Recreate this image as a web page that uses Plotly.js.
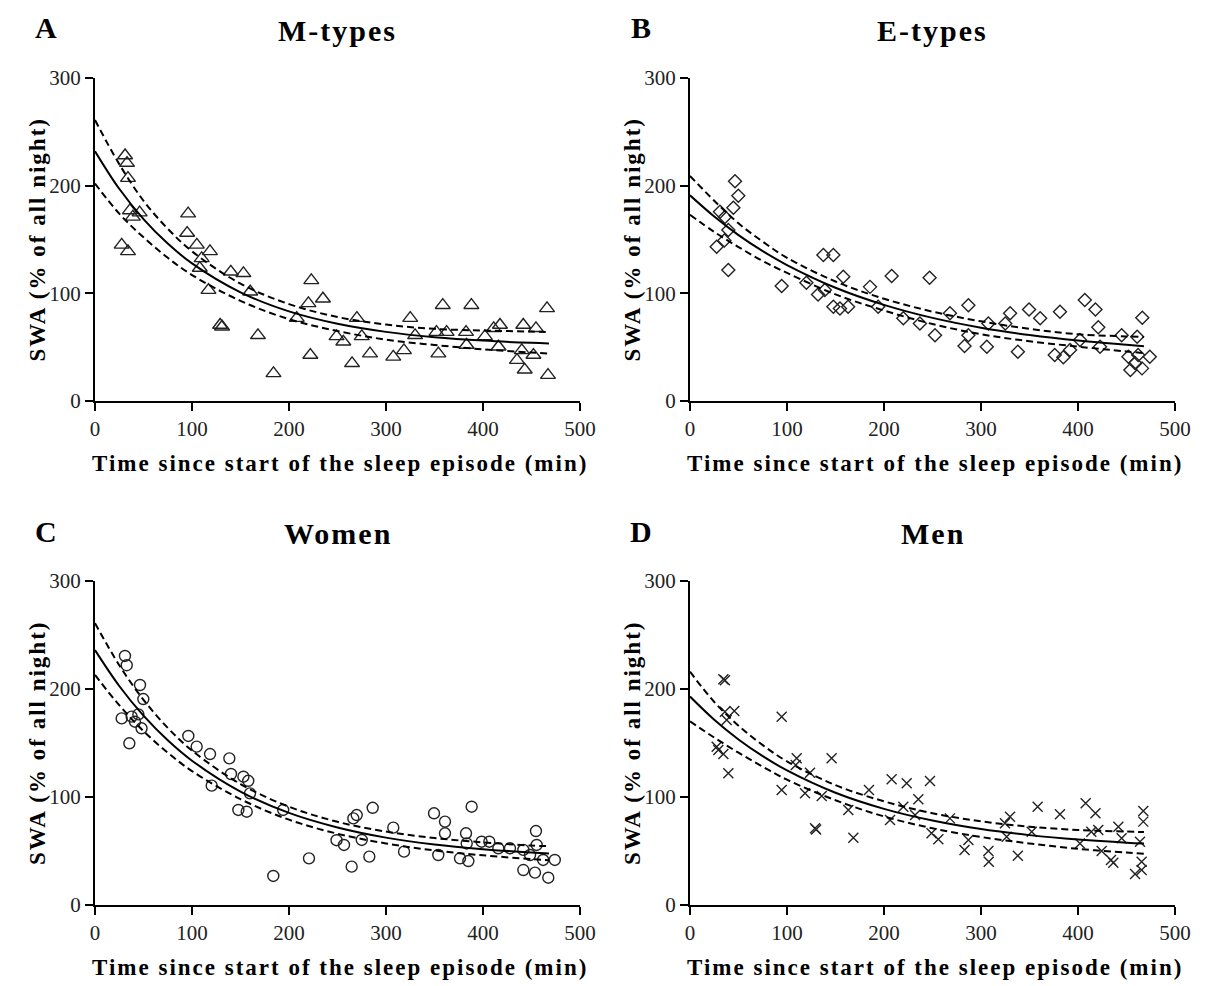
<!DOCTYPE html>
<html>
<head>
<meta charset="utf-8">
<script src="https://cdn.plot.ly/plotly-3.0.1.min.js"></script>
<style>
html,body{margin:0;padding:0;background:#fff;}
#chart{width:1208px;height:986px;}
.annotation-text{letter-spacing:2px;}
</style>
</head>
<body>
<div id="chart"></div>
<script>
// ---------- data ----------
const panelTitles = ["M-types", "E-types", "Women", "Men"];
const panelLetters = ["A", "B", "C", "D"];
const xTitle = "Time since start of the sleep episode (min)";
const yTitle = "SWA (% of all night)";
const xTicks = [0, 100, 200, 300, 400, 500];
const yTicks = [0, 100, 200, 300];

// Panel A: M-types (triangles)
const mX = [31,33,34,36,39,46,27.5,34,96,95,105,118.5,110,108,117,129,131,140,153,160,168,184,208,220,223,235,222,249,256,270,275,265,283.5,307.5,318.5,325,330,354,352,362.5,358.5,388,382.5,383,402,411,417.5,416,441.5,454.6,440,435,443,452,466,467];
const mY = [228,221,207,177,171,175,145,139,174,156,145,139,132.5,123.5,103,70.6,69,120,118.6,101.5,61,25.7,77,90.7,112,95,42.7,60,55,77,60,35,44,41,47,77,61,44,64,64,89,89,64,52,60,67.5,70.6,50.4,70.6,67.5,47,38,29,42.7,86,24];

// Panel B: E-types (diamonds)
const eX = [46.4,49.8,44.7,30.9,36,39.5,27.5,35.4,39.5,94.5,137.5,147.8,120,132,139,158,147.8,154.6,163,185.6,194,207.9,219.9,237,247,252.6,268,287,287,283,306,307.6,330,325,338,349.5,361,381.4,376,384.9,391.8,402,407,418,420.9,422.7,445,461,466.3,452,462,474,454,459,466];
const eY = [204,190.7,179.5,175.8,171,158.8,143.3,149,121.7,106.8,135.6,135.6,109.9,99,103,115.4,87.6,86,87.6,106,87.6,116,76.8,72,114.5,61,81.4,89,61,51,50.4,72,81.4,72,45.8,85,76.8,83,42.7,40.6,47.4,56.7,93.8,85,68.5,50.4,61,59.7,77.4,41,42.7,41,28.8,35,30.3];

// Panel C: Women (circles)
const wX = [30.9,32.7,46.4,49.8,27.5,37.8,41.2,48,35.4,44.7,96.2,104.8,118.6,120.3,138.5,140.2,153,158,147.8,156.4,159.8,194,183.8,220.6,249,256.7,264.6,266.3,269.8,275,282.8,286.3,307.5,318.6,349.5,360.8,360.8,353.9,382.5,388.3,383.2,376.3,384.9,398.6,406.5,415.8,427.8,441.6,454.6,455.3,448.5,441.6,453.6,467.3,474,462];
const wY = [230.6,222,203.7,190.7,172.8,174.4,169.7,163.6,149.7,176.5,156.5,146.6,139.8,110.5,135.8,121.3,118.8,115,88,86.4,103.4,88,26.9,43.2,60,55.6,35.5,80.2,83.3,60.2,44.8,90,71.6,49.4,84.9,77.2,66.4,46.3,66.4,91,57,43.2,40.7,58.6,58.6,52.5,52.5,51,68.5,55.6,46.3,32.4,30,25.3,41.7,41.7];

// Panel D: Men (crosses)
const nX = [34.4,36,36,45.7,37.8,27.5,29.2,34.4,39.5,94.5,94.5,110,109,123.7,118.6,128.9,130,135.8,146,163.2,168.4,184.5,207.9,223.4,219.9,206.2,235.4,232,247.4,249,256,268,283,287,307.6,308,329.9,324.7,326.5,338,352.3,358.4,381.4,402,407.9,418,413.7,420.9,424.4,436.4,434,441.6,445,467.3,467.3,463.9,465.6,465.6,458.8];
const nY = [209,208,179,179.6,171.3,146.6,143.5,139.8,122,174.4,106.5,135.8,129.6,122.5,103.4,71,70,100.9,135.8,88,62.3,106.5,116.4,112.7,91,78.7,98,83.3,114.8,66.4,60.8,80.2,51,60.2,50,40,81.8,75.6,63.2,45.6,67.9,91,84,57,94.2,84.9,67.9,69.4,50,39.2,41.7,72.5,61.7,87,77.2,58.6,40,32.4,28.7];

// fitted curves and confidence bands (read at these times)
const fitX = [0,25,50,75,100,150,200,250,300,350,400,450,468];
const mFit = [232,197.1,169,146.2,127.8,100.9,83.2,71.7,64.2,59.3,56.1,54,53.5];
const mUp  = [261,220,186,160,139,109,90,78,71,67,65.5,64.5,64];
const mLo  = [202,174,152,133,117,93,76,65,57,52,48,45,44];
const eFit = [191,171.3,154.1,139.2,126.3,105.2,89.3,77.2,68.1,61.3,56.1,52.2,50.9];
const eUp  = [209,186,165,148,133,111,95,83,74,67,62,60,59.5];
const eLo  = [173,157,143,130,119,99,84,71.5,62,55.5,50.5,46,44.5];
const wFit = [236,202.8,175.3,152.5,133.6,105,85.3,71.8,62.4,56,51.7,48.6,47.7];
const wUp  = [261,222,190,164,143,112,91,77,68,62,58,55,54.5];
const wLo  = [213,185,161,141,124,98,79,66,57,50.5,46,42.5,41.5];
const nFit = [193,171.5,153.3,137.8,124.6,103.9,89,78.2,70.3,64.7,60.6,57.7,57];
const nUp  = [216,188,166,148,133,111,96,85,77.5,72.5,69.5,68,67.5];
const nLo  = [170,155,141,128,116,97,82,71,63,57,52,48.5,47.5];

// ---------- build figure ----------
const W = 1208, H = 986;
const px = v => v / W;
const py = v => 1 - v / H;

const panels = [
  {xs: mX, ys: mY, fit: mFit, up: mUp, lo: mLo, sym: "triangle-up-open", size: 13},
  {xs: eX, ys: eY, fit: eFit, up: eUp, lo: eLo, sym: "diamond-open", size: 10},
  {xs: wX, ys: wY, fit: wFit, up: wUp, lo: wLo, sym: "circle-open", size: 11},
  {xs: nX, ys: nY, fit: nFit, up: nUp, lo: nLo, sym: "x-thin-open", size: 10}
];
// plot-area pixel boxes [left, right, top, bottom]
const boxes = [[95,580,78,401],[690,1175,78,401],[95,580,581,905],[690,1175,581,905]];

const serif = "Liberation Serif, Times New Roman, serif";
const data = [];
const layout = {
  width: W, height: H,
  margin: {l:0, r:0, t:0, b:0},
  paper_bgcolor: "#fff", plot_bgcolor: "#fff",
  showlegend: false,
  annotations: []
};

panels.forEach((p, i) => {
  const n = i === 0 ? "" : String(i + 1);
  const xa = "x" + n, ya = "y" + n;
  const b = boxes[i];
  const axCommon = {
    showgrid: false, zeroline: false, showline: true,
    linecolor: "#000", linewidth: 2,
    ticks: "outside", ticklen: 8, tickwidth: 2, tickcolor: "#000",
    tickfont: {family: serif, size: 21, color: "#222"},
    fixedrange: true
  };
  layout["xaxis" + n] = Object.assign({}, axCommon, {
    domain: [px(b[0]), px(b[1])], anchor: ya, range: [0, 500],
    tickvals: xTicks, ticktext: xTicks.map(String)
  });
  layout["yaxis" + n] = Object.assign({}, axCommon, {
    domain: [py(b[3]), py(b[2])], anchor: xa, range: [0, 300],
    tickvals: yTicks, ticktext: yTicks.map(String)
  });

  data.push({
    type: "scatter", mode: "markers", x: p.xs, y: p.ys, xaxis: xa, yaxis: ya,
    cliponaxis: false,
    marker: {symbol: p.sym, size: p.size, color: "#222", line: {color: "#222", width: 1.4}}
  });
  [[p.up, "dash"], [p.lo, "dash"], [p.fit, "solid"]].forEach(([ys, dash]) => {
    data.push({
      type: "scatter", mode: "lines", x: fitX, y: ys, xaxis: xa, yaxis: ya,
      line: {color: "#000", width: 2, dash: dash === "dash" ? "7px,4px" : "solid", shape: "spline"},
      hoverinfo: "skip"
    });
  });

  const cx = (b[0] + b[1]) / 2;
  const cy = (b[2] + b[3]) / 2;
  const ann = (text, x, y, size, angle) => layout.annotations.push({
    text: text, xref: "paper", yref: "paper", x: px(x), y: py(y),
    xanchor: "center", yanchor: "middle", showarrow: false, textangle: angle || 0,
    font: {family: serif, size: size, color: "#000", weight: "bold"}
  });
  ann(panelTitles[i], cx, b[2] - 48, 30);
  ann(panelLetters[i], b[0] - 48, b[2] - 50, 30);
  ann(yTitle, b[0] - 58, cy, 23, -90);
  ann(xTitle, cx + 2, b[3] + 62, 23);
});

Plotly.newPlot("chart", data, layout, {displayModeBar: false, staticPlot: true});
</script>
</body>
</html>
